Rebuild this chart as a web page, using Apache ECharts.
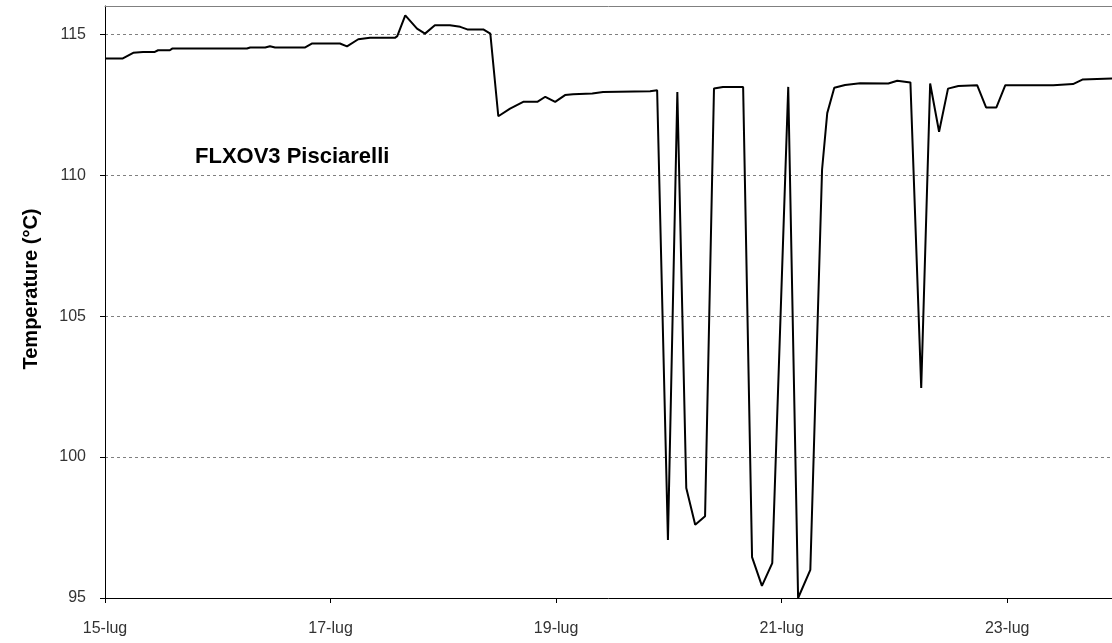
<!DOCTYPE html>
<html>
<head>
<meta charset="utf-8">
<script src="https://cdn.jsdelivr.net/npm/echarts@6/dist/echarts.min.js"></script>
<style>
  html, body { margin: 0; padding: 0; background: #fff; }
  #chart { width: 1112px; height: 643px; }
</style>
</head>
<body>
<div id="chart"></div>
<script>
// hours since 15-lug 00:00
const hours = [
  0, 3.8, 6.0, 8.1, 10.6, 11.3, 13.8, 14.3, 30.2, 30.9,
  34.1, 35.1, 36.2, 42.6, 44.1, 50.0, 51.5, 53.9, 56.4, 61.7,
  62.2, 63.9, 66.4, 68.1, 70.2, 73.4, 75.6, 77.1, 80.5, 82.0,
  83.7, 86.2, 89.0, 92.0, 93.7, 95.8, 97.9, 99.6, 103.7, 106.0,
  116.0, 117.5, 119.8, 121.8, 123.7, 125.6, 127.7, 129.6, 131.5, 135.8,
  137.7, 139.8, 142.0, 145.4, 147.5, 150.1, 152.6, 153.7, 155.2, 157.5,
  160.7, 166.7, 168.6, 171.4, 173.7, 175.6, 177.5, 179.4, 181.6, 185.6,
  187.5, 189.7, 191.6, 201.8, 202.2, 206.0, 208.0, 214.3
];
const temps = [
  114.14, 114.14, 114.34, 114.37, 114.37, 114.43, 114.43, 114.49, 114.49, 114.53,
  114.53, 114.57, 114.53, 114.53, 114.67, 114.67, 114.57, 114.82, 114.87, 114.87,
  114.93, 115.67, 115.20, 115.02, 115.32, 115.32, 115.26, 115.17, 115.17, 115.02,
  112.09, 112.36, 112.60, 112.60, 112.78, 112.60, 112.84, 112.87, 112.90, 112.95,
  112.98, 113.01, 97.06, 112.95, 98.90, 97.60, 97.90, 113.07, 113.13, 113.13,
  96.45, 95.43, 96.24, 113.13, 95.00, 96.00, 110.20, 112.20, 113.10, 113.20,
  113.26, 113.25, 113.35, 113.29, 102.45, 113.25, 111.54, 113.07, 113.16, 113.19,
  112.40, 112.40, 113.19, 113.19, 113.23, 113.23, 113.39, 113.43
];
const yTicks = [95, 100, 105, 110, 115];
const seriesName = 'FLXOV3 Pisciarelli';
const yName = 'Temperature (°C)';

const points = hours.map((h, i) => [h, temps[i]]);

const chart = echarts.init(document.getElementById('chart'));
chart.setOption({
  animation: false,
  backgroundColor: '#fff',
  textStyle: { fontFamily: 'Liberation Sans, Arial, sans-serif' },
  grid: { left: 105, top: 6, right: 0, bottom: 45 },
  graphic: [{
    type: 'text', left: 195, top: 146,
    style: { text: seriesName, font: 'bold 22px "Liberation Sans", Arial, sans-serif', fill: '#000' }
  }, {
    type: 'text', x: 31, y: 289, rotation: Math.PI / 2,
    style: {
      text: yName, font: 'bold 20px "Liberation Sans", Arial, sans-serif', fill: '#000',
      align: 'center', verticalAlign: 'middle'
    }
  }],
  xAxis: [{
    type: 'value', min: 0, max: 214.3, interval: 48,
    axisLine: { onZero: false, lineStyle: { color: '#000', width: 1 } },
    axisTick: { show: true, length: 5, inside: false, lineStyle: { color: '#000' } },
    axisLabel: {
      showMaxLabel: false, margin: 23, fontSize: 16, color: '#333',
      formatter: v => (15 + Math.floor(v / 24)) + '-lug'
    },
    splitLine: { show: false }
  }, {
    // top frame line of the plot area
    type: 'value', position: 'top', min: 0, max: 214.3,
    axisLine: { show: true, onZero: false, lineStyle: { color: '#808080', width: 1 } },
    axisTick: { show: false }, axisLabel: { show: false }, splitLine: { show: false }
  }],
  yAxis: {
    type: 'value', min: yTicks[0], max: 116, interval: 5,
    axisLine: { show: true, lineStyle: { color: '#000', width: 1 } },
    axisTick: { show: true, length: 5, lineStyle: { color: '#000' } },
    axisLabel: { showMaxLabel: false, margin: 19, fontSize: 16, color: '#333' },
    splitLine: {
      show: true, showMinLine: false, showMaxLine: false,
      lineStyle: { color: '#808080', type: [3, 3], width: 1 }
    }
  },
  series: [{
    name: seriesName, type: 'line', data: points, xAxisIndex: 0,
    showSymbol: false, symbol: 'none',
    lineStyle: { color: '#000', width: 2 }
  }]
});
</script>
</body>
</html>
